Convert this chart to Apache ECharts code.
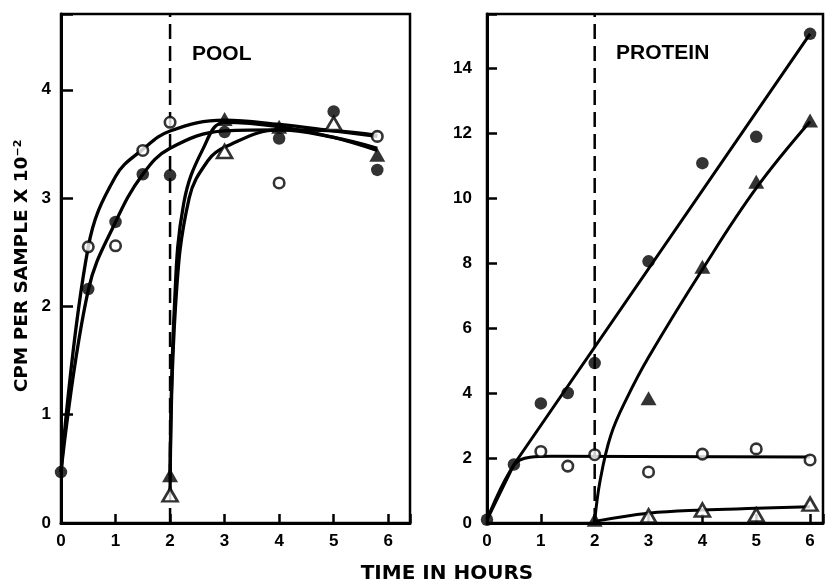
<!DOCTYPE html>
<html><head><meta charset="utf-8">
<script src="https://cdn.jsdelivr.net/npm/echarts@6/dist/echarts.min.js"></script>
<style>html,body{margin:0;padding:0;background:#fff}#c{width:826px;height:583px}</style>
</head><body><div id="c"></div>
<script>
// ---------- shared ----------
const dividerHour = 2;
const poolXMax = 6.4, poolYMax = 4.7;
const protXMax = 6.24, protYMax = 15.66;

// ---------- POOL panel: observed points [hours, cpm x 10^-2] ----------
const poolFilledCircles = [[0,0.47],[0.5,2.16],[1,2.78],[1.5,3.22],[2,3.21],[3,3.61],[4,3.55],[5,3.8],[5.8,3.26]];
const poolOpenCircles   = [[0.5,2.55],[1,2.56],[1.5,3.44],[2,3.7],[4,3.14],[5.8,3.57]];
const poolFilledTris    = [[2,0.44],[3,3.73],[4,3.66],[5.8,3.4]];
const poolOpenTris      = [[2,0.26],[3,3.43],[5,3.69]];
// POOL fitted curves
const poolCurveOpenCirc   = [[0,0.47],[0.5,2.55],[1,3.2],[1.5,3.45],[2,3.62],[3,3.72],[4,3.68],[5,3.62],[5.8,3.57]];
const poolCurveFilledCirc = [[0,0.47],[0.5,2.15],[1,2.78],[1.5,3.22],[2,3.46],[3,3.62],[4,3.63],[5,3.56],[5.8,3.46]];
const poolCurveFilledTri  = [[2,0.44],[2.08,2.0],[2.25,2.95],[2.6,3.45],[3,3.7],[4,3.66],[5,3.56],[5.8,3.44]];
const poolCurveOpenTri    = [[2,0.26],[2.1,2.0],[2.35,3.0],[2.7,3.35],[3,3.47],[4,3.63],[5,3.62],[5.8,3.58]];

// ---------- PROTEIN panel ----------
const protFilledCircles = [[0,0.1],[0.5,1.8],[1,3.68],[1.5,4.0],[2,4.92],[3,8.05],[4,11.07],[5,11.88],[6,15.05]];
const protOpenCircles   = [[1,2.2],[1.5,1.75],[2,2.1],[3,1.57],[4,2.12],[5,2.28],[6,1.94]];
const protFilledTris    = [[2,0.1],[3,3.84],[4,7.88],[5,10.5],[6,12.38]];
const protOpenTris      = [[3,0.22],[4,0.4],[5,0.25],[6,0.58]];
const protCurveFilledCirc = [[0,0.1],[0.5,1.8],[6,15.05]];
const protCurveOpenCirc   = [[0,0.1],[0.5,1.78],[0.8,2.02],[1.2,2.05],[6,2.03]];
const protCurveFilledTri  = [[2,0.05],[2.1,1.3],[2.3,2.7],[2.6,3.85],[3,5.1],[4,7.8],[5,10.3],[6,12.35]];
const protCurveOpenTri    = [[2,0.05],[3,0.3],[4,0.4],[5,0.45],[6,0.5]];

const FONT = '"Liberation Sans Narrow","Liberation Sans",Arial,sans-serif';
const FONTW = '"Liberation Sans",Arial,sans-serif';
const FONTD = '"DejaVu Sans",Arial,sans-serif';

function xAxis(g, max) {
  return {type:'value', gridIndex:g, min:0, max:max, interval:1,
    axisLine:{show:true, onZero:false, lineStyle:{color:'#000', width:3}},
    axisTick:{show:true, inside:true, length:9, lineStyle:{color:'#000', width:2.5}},
    axisLabel:{color:'#000', fontFamily:FONT, fontWeight:'bold', fontSize:17, margin:10,
      formatter: v => Number.isInteger(v) ? String(v) : ''},
    splitLine:{show:false}};
}
function yAxis(g, max, step, tickLen, margin) {
  return {type:'value', gridIndex:g, min:0, max:max, interval:step,
    axisLine:{show:true, onZero:false, lineStyle:{color:'#000', width:3}},
    axisTick:{show:true, inside:true, length:tickLen, lineStyle:{color:'#000', width:2.5}},
    axisLabel:{color:'#000', fontFamily:FONT, fontWeight:'bold', fontSize:17, margin:margin,
      formatter: v => (Math.abs(v/step - Math.round(v/step)) < 1e-9) ? String(v) : ''},
    splitLine:{show:false}};
}
function curve(g, data, w, sm) {
  return {type:'line', xAxisIndex:g, yAxisIndex:g, data:data, smooth:sm,
    showSymbol:false, symbol:'none', lineStyle:{color:'#000', width:w}, z:2, silent:true};
}
function pts(g, data, kind) {
  const filled = kind.startsWith('filled');
  const tri = kind.endsWith('tri');
  return {type:'scatter', xAxisIndex:g, yAxisIndex:g, data:data,
    symbol: tri ? 'triangle' : 'circle',
    symbolSize: tri ? (filled ? [16,14] : [15,13]) : (filled ? 12.5 : 10.5),
    itemStyle: filled ? {color:'#000'} : {color:'#fff', borderColor:'#000', borderWidth:2.6},
    z:4, silent:true};
}
function divider(g, ymax) {
  return {type:'line', xAxisIndex:g, yAxisIndex:g, data:[[dividerHour,0],[dividerHour,ymax]],
    showSymbol:false, symbol:'none', lineStyle:{color:'#000', width:2.5, type:[15,7]}, z:1, silent:true};
}

const chart = echarts.init(document.getElementById('c'), null, {renderer:'canvas'});
chart.setOption({
  animation:false,
  backgroundColor:'#fff',
  grid:[
    {left:61, top:14, width:349, height:509, show:true, borderColor:'#000', borderWidth:2.5, backgroundColor:'transparent'},
    {left:487, top:14, width:339, height:509, show:true, borderColor:'#000', borderWidth:2.5, backgroundColor:'transparent'}
  ],
  xAxis:[xAxis(0, poolXMax), xAxis(1, protXMax)],
  yAxis:[yAxis(0, poolYMax, 1, 12, 10), yAxis(1, protYMax, 2, 10, 15)],
  series:[
    divider(0, poolYMax),
    curve(0, poolCurveOpenCirc, 3.3, 0.4),
    curve(0, poolCurveFilledCirc, 3.3, 0.4),
    curve(0, poolCurveFilledTri, 3.3, 0.4),
    curve(0, poolCurveOpenTri, 3.3, 0.4),
    pts(0, poolFilledCircles, 'filled-circ'),
    pts(0, poolOpenCircles, 'open-circ'),
    pts(0, poolFilledTris, 'filled-tri'),
    pts(0, poolOpenTris, 'open-tri'),
    divider(1, protYMax),
    curve(1, protCurveFilledCirc, 3, false),
    curve(1, protCurveOpenCirc, 3, 0.4),
    curve(1, protCurveFilledTri, 3, 0.4),
    curve(1, protCurveOpenTri, 3, 0.4),
    pts(1, protFilledCircles, 'filled-circ'),
    pts(1, protOpenCircles, 'open-circ'),
    pts(1, protFilledTris, 'filled-tri'),
    pts(1, protOpenTris, 'open-tri')
  ],
  graphic:[
    {type:'text', left:192, top:44, style:{text:'POOL', fill:'#000', font:'bold 21px '+FONTW}},
    {type:'text', left:616, top:43, style:{text:'PROTEIN', fill:'#000', font:'bold 21px '+FONTW}},
    {type:'text', x:447, y:574, style:{text:'TIME IN HOURS', fill:'#000', font:'bold 20px '+FONTD, textAlign:'center', textVerticalAlign:'middle'}},
    {type:'text', x:22, y:266, rotation:Math.PI/2, style:{
      text:'{a|CPM PER SAMPLE X 10}{b|−2}', textAlign:'center', textVerticalAlign:'middle',
      rich:{a:{fontFamily:FONTD, fontWeight:'bold', fontSize:18.5, fill:'#000'},
            b:{fontFamily:FONTD, fontWeight:'bold', fontSize:11, fill:'#000', verticalAlign:'top'}}}}
  ]
});
</script></body></html>
